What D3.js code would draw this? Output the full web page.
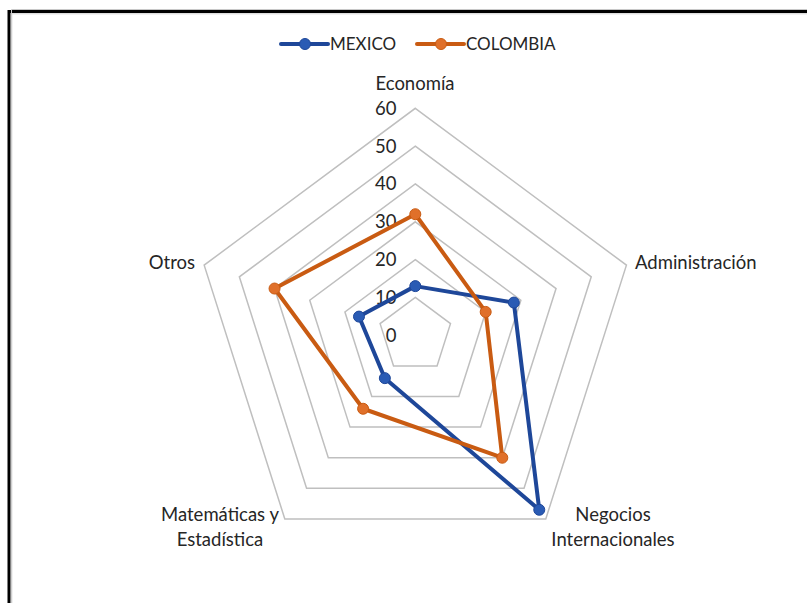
<!DOCTYPE html>
<html>
<head>
<meta charset="utf-8">
<script src="https://cdn.jsdelivr.net/npm/d3@7/dist/d3.min.js"></script>
<style>
  html, body { margin: 0; padding: 0; background: #fff; }
  svg { display: block; }
  text { font-family: Lato, "Open Sans", sans-serif; fill: #262626; }
</style>
</head>
<body>
<svg id="chart" width="807" height="603"></svg>
<script>
// Subject areas (radar axes), clockwise from the top
const categories = ["Economía", "Administración", "Negocios\nInternacionales", "Matemáticas y\nEstadística", "Otros"];
const mexico   = [13, 28, 57, 14, 16];
const colombia = [32, 20, 40, 24, 40];
const seriesNames = ["MEXICO", "COLOMBIA"];
const tickValues = [0, 10, 20, 30, 40, 50, 60];

const seriesData = [mexico, colombia];
const lineColors = ["#1e4799", "#c95b12"];
const dotColors  = ["#2a5bb4", "#e0702a"];

const svg = d3.select("#chart");
const cx = 415.3, cy = 335.3;

// radial scales (horizontal and vertical extent of the web)
const rx = d3.scaleLinear().domain([0, 60]).range([0, 222]);
const ry = d3.scaleLinear().domain([0, 60]).range([0, 227]);
const angle = d3.scaleLinear().domain([0, categories.length]).range([0, 2 * Math.PI]);

const px = (i, v) => cx + rx(v) * Math.sin(angle(i));
const py = (i, v) => cy - ry(v) * Math.cos(angle(i));

// frame
svg.append("rect").attr("x", 9).attr("y", 11.5).attr("width", 900).attr("height", 700)
  .attr("fill", "none").attr("stroke", "#000").attr("stroke-width", 3);
svg.append("path").attr("d", "M11.5,900 V9.5 H900")
  .attr("fill", "none").attr("stroke", "#c8c8c8").attr("stroke-width", 1);
svg.append("path").attr("d", "M11.8,900 V13.8 H900")
  .attr("fill", "none").attr("stroke", "#d0d0d0").attr("stroke-width", 1);

// concentric pentagon gridlines
const gridLine = d3.line();
svg.append("g").selectAll("path")
  .data(tickValues.filter(v => v > 0))
  .join("path")
  .attr("d", v => gridLine(categories.map((c, i) => [px(i, v), py(i, v)])) + "Z")
  .attr("fill", "none")
  .attr("stroke", "#bfbfbf")
  .attr("stroke-width", 1.5);

// value labels along the top axis
svg.append("g").selectAll("text")
  .data(tickValues)
  .join("text")
  .attr("x", 396.5)
  .attr("y", v => cy - ry(v))
  .attr("dy", "0.35em")
  .attr("text-anchor", "end")
  .attr("font-size", 18.5)
  .text(v => v);

// category labels
const labelPos = [
  { x: 415, y: 84, anchor: "middle" },
  { x: 635, y: 263, anchor: "start" },
  { x: 613, y: 515, anchor: "middle" },
  { x: 220, y: 515, anchor: "middle" },
  { x: 195, y: 263, anchor: "end" }
];
const catLabels = svg.append("g").selectAll("text")
  .data(categories)
  .join("text")
  .attr("x", (d, i) => labelPos[i].x)
  .attr("y", (d, i) => labelPos[i].y)
  .attr("text-anchor", (d, i) => labelPos[i].anchor)
  .attr("font-size", 18.5);
catLabels.each(function(d, i) {
  const t = d3.select(this);
  d.split("\n").forEach((line, k) => {
    t.append("tspan").attr("x", labelPos[i].x).attr("dy", k === 0 ? "0.35em" : 25).text(line);
  });
});

// series polygons and markers
const seriesG = svg.append("g").selectAll("g")
  .data(seriesData)
  .join("g");
seriesG.append("path")
  .attr("d", (vals) => gridLine(vals.map((v, i) => [px(i, v), py(i, v)])) + "Z")
  .attr("fill", "none")
  .attr("stroke", (d, s) => lineColors[s])
  .attr("stroke-width", 4)
  .attr("stroke-linejoin", "round");
seriesG.each(function(vals, s) {
  d3.select(this).selectAll("circle")
    .data(vals)
    .join("circle")
    .attr("cx", (v, i) => px(i, v))
    .attr("cy", (v, i) => py(i, v))
    .attr("r", 5.5)
    .attr("fill", dotColors[s])
    .attr("stroke", lineColors[s])
    .attr("stroke-width", 1);
});

// legend
const legendX = [281, 417];
const legend = svg.append("g").selectAll("g")
  .data(seriesNames)
  .join("g")
  .attr("transform", (d, s) => `translate(${legendX[s]},44)`);
legend.append("line")
  .attr("x1", 0).attr("x2", 47).attr("y1", 0).attr("y2", 0)
  .attr("stroke", (d, s) => lineColors[s]).attr("stroke-width", 4)
  .attr("stroke-linecap", "round");
legend.append("circle")
  .attr("cx", 24).attr("cy", 0).attr("r", 5.5)
  .attr("fill", (d, s) => dotColors[s]).attr("stroke", (d, s) => lineColors[s]);
legend.append("text")
  .attr("x", 49).attr("y", 0).attr("dy", "0.35em")
  .attr("font-size", 17)
  .text(d => d);
</script>
</body>
</html>
